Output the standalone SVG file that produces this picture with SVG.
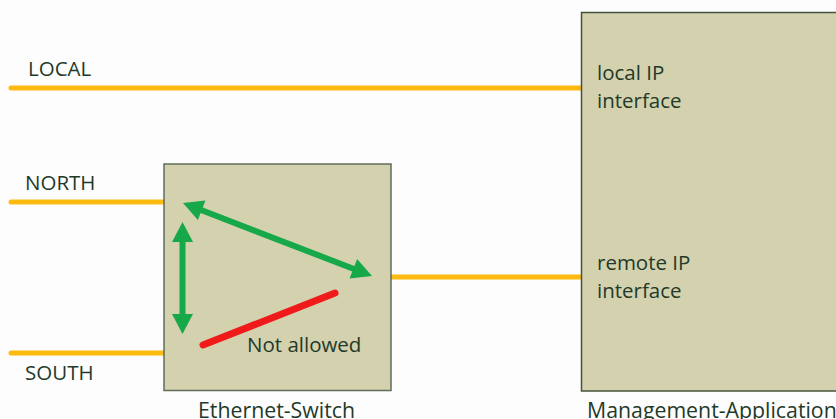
<svg xmlns="http://www.w3.org/2000/svg" width="836" height="419" viewBox="0 0 836 419">
  <style>
    .bg { fill: #fdfdfd; }
    .box { fill: #d3d1ae; stroke: #5f6d58; stroke-width: 1.5; }
    .wire { stroke: #fdbb12; stroke-width: 5; stroke-linecap: round; fill: none; }
    .ok { stroke: #17a84a; stroke-width: 6; fill: none; marker-start: url(#head); marker-end: url(#head); }
    .deny { stroke: #f01a1a; stroke-width: 7; stroke-linecap: round; fill: none; }
    text { font-family: "Open Sans", "Noto Sans", "DejaVu Sans", sans-serif; font-size: 20.5px; fill: #1f3a29; }
    .caption { font-size: 21.3px; }
  </style>
  <defs>
    <marker id="head" markerUnits="userSpaceOnUse" markerWidth="24" markerHeight="24" viewBox="0 -12 22 24" refX="2" refY="0" orient="auto-start-reverse">
      <path d="M0,-10.5 L20,0 L0,10.5 z" fill="#17a84a"/>
    </marker>
  </defs>

  <rect class="bg" x="0" y="0" width="836" height="419"/>

  <!-- port wires -->
  <g id="connectors">
    <line class="wire" x1="11" y1="88" x2="582" y2="88"/>
    <line class="wire" x1="11" y1="202" x2="164" y2="202"/>
    <line class="wire" x1="11" y1="353" x2="164" y2="353"/>
    <line class="wire" x1="390" y1="277" x2="582" y2="277"/>
  </g>

  <!-- port labels -->
  <g id="port-labels">
    <text x="28" y="76">LOCAL</text>
    <text x="25" y="190">NORTH</text>
    <text x="25" y="380">SOUTH</text>
  </g>

  <!-- switch with its forwarding paths -->
  <g id="ethernet-switch">
    <rect class="box" x="164" y="164" width="227" height="226.5"/>
    <line class="ok" x1="199.8" y1="209.5" x2="355.2" y2="269.5"/>
    <line class="ok" x1="182.5" y1="240" x2="182.5" y2="316"/>
    <line class="deny" x1="203" y1="345" x2="335" y2="293"/>
    <text x="247" y="352">Not allowed</text>
    <text class="caption" x="198" y="418">Ethernet-Switch</text>
  </g>

  <!-- management application -->
  <g id="management-application">
    <rect class="box" x="581.5" y="12.5" width="264" height="378.5" style="stroke:#44533c"/>
    <text x="597" y="80">local IP</text>
    <text x="597" y="108">interface</text>
    <text x="597" y="270">remote IP</text>
    <text x="597" y="298">interface</text>
    <text class="caption" x="587" y="418">Management-Application</text>
  </g>
</svg>
